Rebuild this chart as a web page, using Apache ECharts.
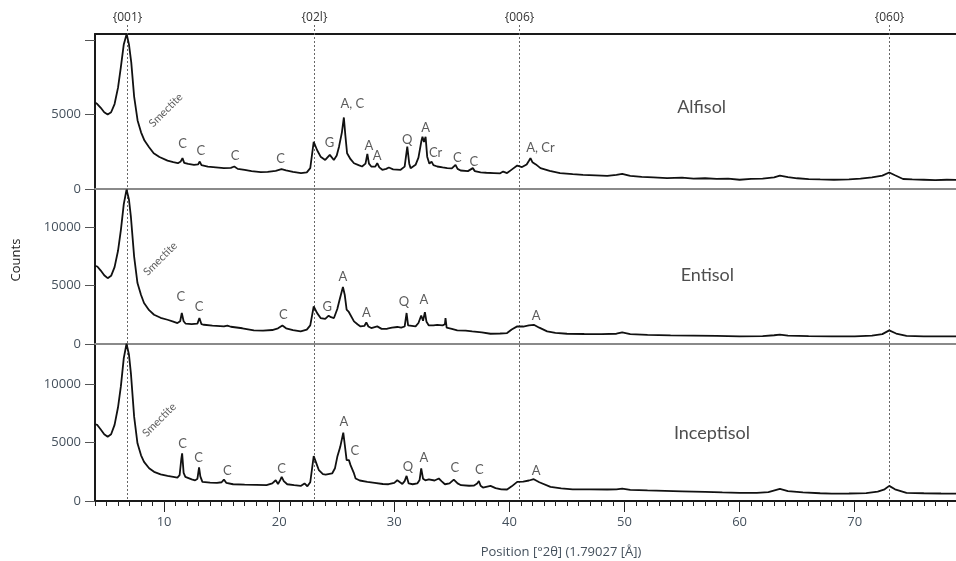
<!DOCTYPE html>
<html><head><meta charset="utf-8">
<script src="https://cdn.jsdelivr.net/npm/echarts@6/dist/echarts.min.js"></script>
<style>html,body{margin:0;padding:0;background:#fff}#c{width:956px;height:561px}</style>
</head><body><div id="c"></div>
<script>
// ---- data: [2θ, counts] ----
const alfisol = [[4.0,5800],[4.2,5700],[4.5,5450],[4.8,5150],[5.1,5000],[5.4,5150],[5.7,5700],[6.0,6800],[6.25,8200],[6.5,9700],[6.75,10400],[6.95,9700],[7.15,8500],[7.4,6200],[7.7,4600],[8.0,3800],[8.3,3250],[8.7,2800],[9.1,2400],[9.6,2150],[10.3,1900],[10.8,1800],[11.2,1730],[11.45,1850],[11.6,2070],[11.75,1750],[12.1,1680],[12.6,1620],[12.95,1650],[13.1,1840],[13.25,1600],[13.8,1500],[14.5,1450],[15.2,1400],[15.8,1420],[16.1,1510],[16.4,1350],[17.0,1280],[17.6,1200],[18.4,1130],[19.0,1150],[19.7,1220],[20.2,1330],[20.6,1250],[21.2,1150],[21.9,1070],[22.4,1120],[22.7,1400],[23.0,3170],[23.3,2600],[23.6,2170],[24.0,1950],[24.4,2290],[24.75,1950],[25.0,2250],[25.2,2840],[25.45,3800],[25.62,4800],[25.75,3600],[25.9,2400],[26.2,2000],[26.5,1730],[26.62,1840],[26.9,1600],[27.2,1510],[27.5,1700],[27.66,2350],[27.8,1700],[28.0,1510],[28.35,1500],[28.52,1730],[28.7,1450],[28.96,1290],[29.3,1350],[29.53,1440],[29.9,1320],[30.55,1290],[30.9,1500],[31.13,2840],[31.3,1700],[31.42,1400],[31.85,1620],[32.1,2100],[32.35,3200],[32.45,3500],[32.58,3150],[32.72,3500],[32.86,2170],[33.05,1700],[33.24,1840],[33.4,1600],[33.73,1510],[34.2,1450],[34.6,1400],[35.0,1380],[35.32,1620],[35.5,1350],[35.76,1240],[36.4,1200],[36.82,1400],[37.0,1200],[37.5,1110],[38.0,1090],[38.65,1070],[39.2,1050],[39.46,1170],[39.6,1060],[39.8,1070],[40.2,1300],[40.68,1570],[41.1,1470],[41.5,1650],[41.7,1900],[41.83,2070],[42.0,1800],[42.3,1650],[42.7,1400],[43.5,1220],[44.4,1070],[45.5,1000],[46.4,950],[47.5,920],[48.5,880],[49.3,950],[49.8,1020],[50.5,880],[51.5,820],[52.5,780],[53.7,730],[55.0,760],[56.0,700],[57.0,720],[58.0,680],[59.0,700],[60.0,620],[61.0,680],[62.0,700],[63.0,780],[63.5,900],[64.2,800],[65.0,720],[66.0,660],[67.0,640],[68.2,620],[69.5,650],[70.5,700],[71.5,780],[72.4,900],[73.0,1110],[73.5,920],[74.2,670],[75.0,640],[76.0,620],[77.0,600],[78.0,620],[79.0,610]];
const entisol = [[4.0,6700],[4.2,6650],[4.5,6300],[4.8,5900],[5.1,5650],[5.4,5850],[5.7,6600],[6.0,8000],[6.25,9800],[6.5,12000],[6.74,13250],[6.95,12400],[7.12,10900],[7.4,7500],[7.69,5230],[8.0,4200],[8.26,3520],[8.7,2900],[9.13,2510],[9.7,2250],[10.3,2080],[10.8,1920],[11.16,1800],[11.4,1950],[11.54,2660],[11.7,1950],[11.88,1740],[12.4,1700],[12.9,1750],[13.07,2230],[13.25,1700],[13.47,1650],[14.2,1580],[15.2,1510],[15.5,1580],[15.8,1480],[16.8,1350],[17.8,1170],[18.6,1150],[19.4,1200],[19.9,1350],[20.28,1590],[20.6,1350],[21.2,1200],[21.87,1080],[22.4,1230],[22.7,1600],[23.0,3220],[23.3,2650],[23.6,2230],[24.0,2150],[24.3,2430],[24.5,2300],[24.76,2230],[25.05,3000],[25.25,3800],[25.54,4890],[25.7,4200],[25.86,2940],[26.05,2750],[26.2,2660],[26.5,1940],[26.8,1700],[27.07,1510],[27.4,1550],[27.57,1850],[27.75,1500],[28.0,1370],[28.52,1510],[28.9,1300],[29.39,1310],[29.8,1400],[30.26,1460],[30.6,1400],[30.9,1500],[31.07,2660],[31.2,1600],[31.27,1510],[31.85,1510],[32.1,1800],[32.34,2450],[32.5,2000],[32.66,2740],[32.8,1900],[33.0,1590],[33.4,1600],[33.73,1650],[34.2,1600],[34.4,1700],[34.45,2230],[34.55,1400],[35.0,1300],[35.47,1170],[36.2,1150],[36.77,1080],[37.6,1000],[38.36,880],[39.2,900],[39.8,940],[40.2,1250],[40.68,1510],[41.2,1500],[41.7,1600],[42.12,1650],[42.6,1400],[43.28,1080],[44.0,950],[45.0,880],[46.5,860],[48.0,850],[49.3,880],[49.8,1000],[50.5,850],[52.0,780],[54.0,740],[56.0,720],[58.0,700],[60.0,650],[62.0,680],[63.0,750],[63.5,800],[64.2,720],[66.0,680],[68.0,650],[70.0,650],[71.5,720],[72.4,850],[73.0,1170],[73.6,900],[74.5,700],[76.0,660],[77.5,650],[79.0,650]];
const inceptisol = [[4.0,6550],[4.2,6490],[4.5,6100],[4.8,5700],[5.1,5490],[5.4,5700],[5.7,6500],[6.0,8000],[6.25,9800],[6.5,12200],[6.74,13420],[6.95,12500],[7.12,10900],[7.4,7200],[7.69,4920],[8.0,3900],[8.26,3340],[8.7,2800],[9.13,2490],[9.7,2280],[10.3,2140],[10.8,2060],[11.16,2000],[11.35,2200],[11.5,3600],[11.57,4060],[11.7,2400],[11.85,2060],[12.4,1850],[12.7,1760],[12.9,1900],[13.04,2860],[13.15,2100],[13.33,1630],[14.0,1560],[14.6,1540],[15.0,1600],[15.2,1830],[15.4,1550],[16.0,1430],[17.0,1400],[18.0,1380],[18.9,1350],[19.4,1500],[19.7,1770],[19.9,1450],[20.1,1800],[20.22,2060],[20.4,1700],[20.7,1430],[21.3,1350],[21.87,1290],[22.2,1500],[22.3,1630],[22.45,1260],[22.7,1600],[23.0,3830],[23.2,3300],[23.45,2630],[23.8,2300],[24.04,2260],[24.6,2350],[24.85,2800],[25.05,3770],[25.3,4600],[25.57,5830],[25.7,4800],[25.86,3490],[26.06,3490],[26.2,3060],[26.5,2350],[26.64,1920],[27.0,1750],[27.66,1630],[28.3,1550],[29.0,1450],[29.5,1430],[30.0,1550],[30.26,1770],[30.5,1600],[30.7,1460],[30.9,1700],[31.07,2140],[31.25,1500],[31.6,1430],[32.0,1500],[32.2,1800],[32.34,2780],[32.5,1900],[32.7,1770],[33.0,1850],[33.15,1860],[33.5,1750],[33.87,1920],[34.1,1700],[34.4,1430],[34.8,1500],[35.17,1830],[35.5,1500],[35.8,1350],[36.5,1300],[36.9,1310],[37.2,1500],[37.35,1710],[37.5,1300],[37.7,1150],[38.36,1290],[38.8,1100],[39.3,1000],[39.8,980],[40.2,1250],[40.68,1630],[41.2,1650],[41.7,1750],[42.12,1860],[42.6,1600],[43.57,1200],[44.5,1080],[45.5,1000],[47.0,990],[48.5,980],[49.3,1000],[49.8,1060],[50.5,950],[52.0,900],[53.5,870],[55.0,830],[57.0,780],[58.5,730],[60.0,690],[61.5,700],[62.5,760],[63.5,1030],[64.2,850],[65.5,730],[67.0,660],[68.0,630],[69.5,640],[71.0,680],[72.0,800],[72.6,1000],[73.0,1290],[73.5,1000],[74.5,690],[76.0,660],[77.5,640],[79.0,630]];

const xTickLabels = [10, 20, 30, 40, 50, 60, 70];
const yTickValues = [0, 5000, 10000];
const panelMax = [10400, 13300, 13400];
const panelNames = ['Alfisol', 'Entisol', 'Inceptisol'];
const panelNamePos = [[56.7, 5500], [57.2, 5940], [57.6, 5830]];
const refLines = [[6.75, '{001}'], [23.0, '{02l}'], [40.8, '{006}'], [73.0, '{060}']];
const smectitePos = [[10.15, 5290], [9.67, 7310], [9.58, 6920]];
const alfisolNotes = [[11.6,3020,'C'],[13.19,2570,'C'],[16.16,2220,'C'],[20.13,2000,'C'],[24.38,3110,'G'],[26.35,5690,'A, C'],[27.8,2910,'A'],[28.52,2240,'A'],[31.13,3290,'Q'],[32.72,4130,'A'],[33.59,2440,'Cr'],[35.47,2070,'C'],[36.91,1840,'C'],[42.7,2770,'A, Cr']];
const entisolNotes = [[11.45,4080,'C'],[13.04,3220,'C'],[20.36,2510,'C'],[24.18,3220,'G'],[25.54,5740,'A'],[27.57,2660,'A'],[30.83,3600,'Q'],[32.57,3800,'A'],[42.33,2450,'A']];
const inceptisolNotes = [[11.6,4920,'C'],[12.99,3690,'C'],[15.5,2570,'C'],[20.22,2780,'C'],[25.62,6770,'A'],[26.58,4290,'C'],[31.18,2910,'Q'],[32.57,3720,'A'],[35.26,2860,'C'],[37.4,2630,'C'],[42.33,2570,'A']];

// ---- chart ----
const chart = echarts.init(document.getElementById('c'), null, {renderer: 'canvas'});
const XMIN = 4, XMAX = 78.8;
const layout = [{top: 34, height: 155}, {top: 189, height: 155}, {top: 344, height: 157}];
const grids = layout.map(g => ({left: 95, right: 0, top: g.top, height: g.height}));
const tickFont = {color: '#44505c', fontSize: 13, fontFamily: 'Open Sans'};

const xAxes = [0, 1, 2].map(i => ({
  type: 'value', gridIndex: i, min: XMIN, max: XMAX, interval: 1,
  axisLine: {show: true, onZero: false, lineStyle: {color: i < 2 ? '#8a8a8a' : '#1a1a1a', width: 2}},
  axisTick: {show: i === 2, length: 5, lineStyle: {color: '#222', width: 1}},
  axisLabel: {show: false},
  splitLine: {show: false}
}));
// top border of the first panel
xAxes.push({type: 'value', gridIndex: 0, position: 'top', min: XMIN, max: XMAX,
  axisLine: {show: true, onZero: false, lineStyle: {color: '#1a1a1a', width: 2}},
  axisTick: {show: false}, axisLabel: {show: false}, splitLine: {show: false}});
// major ticks and labels of the bottom axis
xAxes.push({type: 'value', gridIndex: 2, position: 'bottom', min: XMIN, max: XMAX, interval: 1,
  axisLine: {show: false, onZero: false},
  axisTick: {show: true, length: 11, customValues: xTickLabels, lineStyle: {color: '#222', width: 1}},
  axisLabel: Object.assign({show: true, margin: 15, customValues: xTickLabels,
    formatter: v => xTickLabels.indexOf(Math.round(v * 1000) / 1000) >= 0 ? String(v) : ''}, tickFont),
  splitLine: {show: false}});

const yAxes = [0, 1, 2].map(i => ({
  type: 'value', gridIndex: i, min: 0, max: panelMax[i], interval: 5000,
  axisLine: {show: true, lineStyle: {color: '#1a1a1a', width: 2}},
  axisTick: {show: true, length: 10, customValues: yTickValues, lineStyle: {color: '#555', width: 1}},
  axisLabel: Object.assign({margin: 14,
    customValues: i === 0 ? yTickValues.slice(0, 2) : yTickValues,
    formatter: v => (v % 5000 === 0 && !(i === 0 && v === 10000)) ? String(v) : ''}, tickFont),
  splitLine: {show: false}
}));

const datasets = [alfisol, entisol, inceptisol];
const notes = [alfisolNotes, entisolNotes, inceptisolNotes];
const series = [];
datasets.forEach((d, i) => {
  series.push({type: 'line', xAxisIndex: i, yAxisIndex: i, data: d, symbol: 'none', showSymbol: false,
    lineStyle: {color: '#111', width: 1.8}, silent: true, z: 3, animation: false});
  series.push({type: 'scatter', xAxisIndex: i, yAxisIndex: i, symbolSize: 0, silent: true, z: 4,
    data: notes[i].map(n => ({value: [n[0], n[1]], name: n[2]})),
    label: {show: true, position: 'inside', formatter: '{b}', color: '#333', fontSize: 13, fontFamily: 'Lato'}});
  series.push({type: 'scatter', xAxisIndex: i, yAxisIndex: i, symbolSize: 0, silent: true, z: 4,
    data: [{value: smectitePos[i], name: 'Smectite'}],
    label: {show: true, position: 'inside', rotate: 45, formatter: '{b}', color: '#333', fontSize: 11, fontFamily: 'Lato'}});
  series.push({type: 'scatter', xAxisIndex: i, yAxisIndex: i, symbolSize: 0, silent: true, z: 4,
    data: [{value: panelNamePos[i], name: panelNames[i]}],
    label: {show: true, position: 'inside', formatter: '{b}', color: '#222', fontSize: 18, fontFamily: 'Lato'}});
});

chart.setOption({
  animation: false,
  backgroundColor: '#fff',
  title: {text: 'Position [°2θ] (1.79027 [Å])', left: 556, top: 541, textAlign: 'center',
    textStyle: {fontSize: 13, fontWeight: 'normal', color: '#44505c', fontFamily: 'Open Sans'}},
  grid: grids, xAxis: xAxes, yAxis: yAxes, series: series
});

// reference dotted lines and their labels, positioned through the x scale
const yTop = 25;
const yBottom = chart.convertToPixel({yAxisIndex: 2}, 0);
const gfx = [];
refLines.forEach(([v, label]) => {
  const px = Math.round(chart.convertToPixel({xAxisIndex: 0}, v)) + 0.5;
  gfx.push({type: 'line', silent: true, z: 1,
    shape: {x1: px, y1: yTop, x2: px, y2: yBottom},
    style: {stroke: '#666', lineWidth: 1, lineDash: [2, 2]}});
  gfx.push({type: 'text', silent: true, x: px, y: 18,
    style: {text: label, align: 'center', verticalAlign: 'middle', fill: '#333', font: '12px "Open Sans"'}});
});
gfx.push({type: 'text', silent: true, x: 16, y: 260, rotation: Math.PI / 2,
  style: {text: 'Counts', align: 'center', verticalAlign: 'middle', fill: '#222', font: '13px "Open Sans"'}});
chart.setOption({graphic: gfx});
</script>
</body></html>
